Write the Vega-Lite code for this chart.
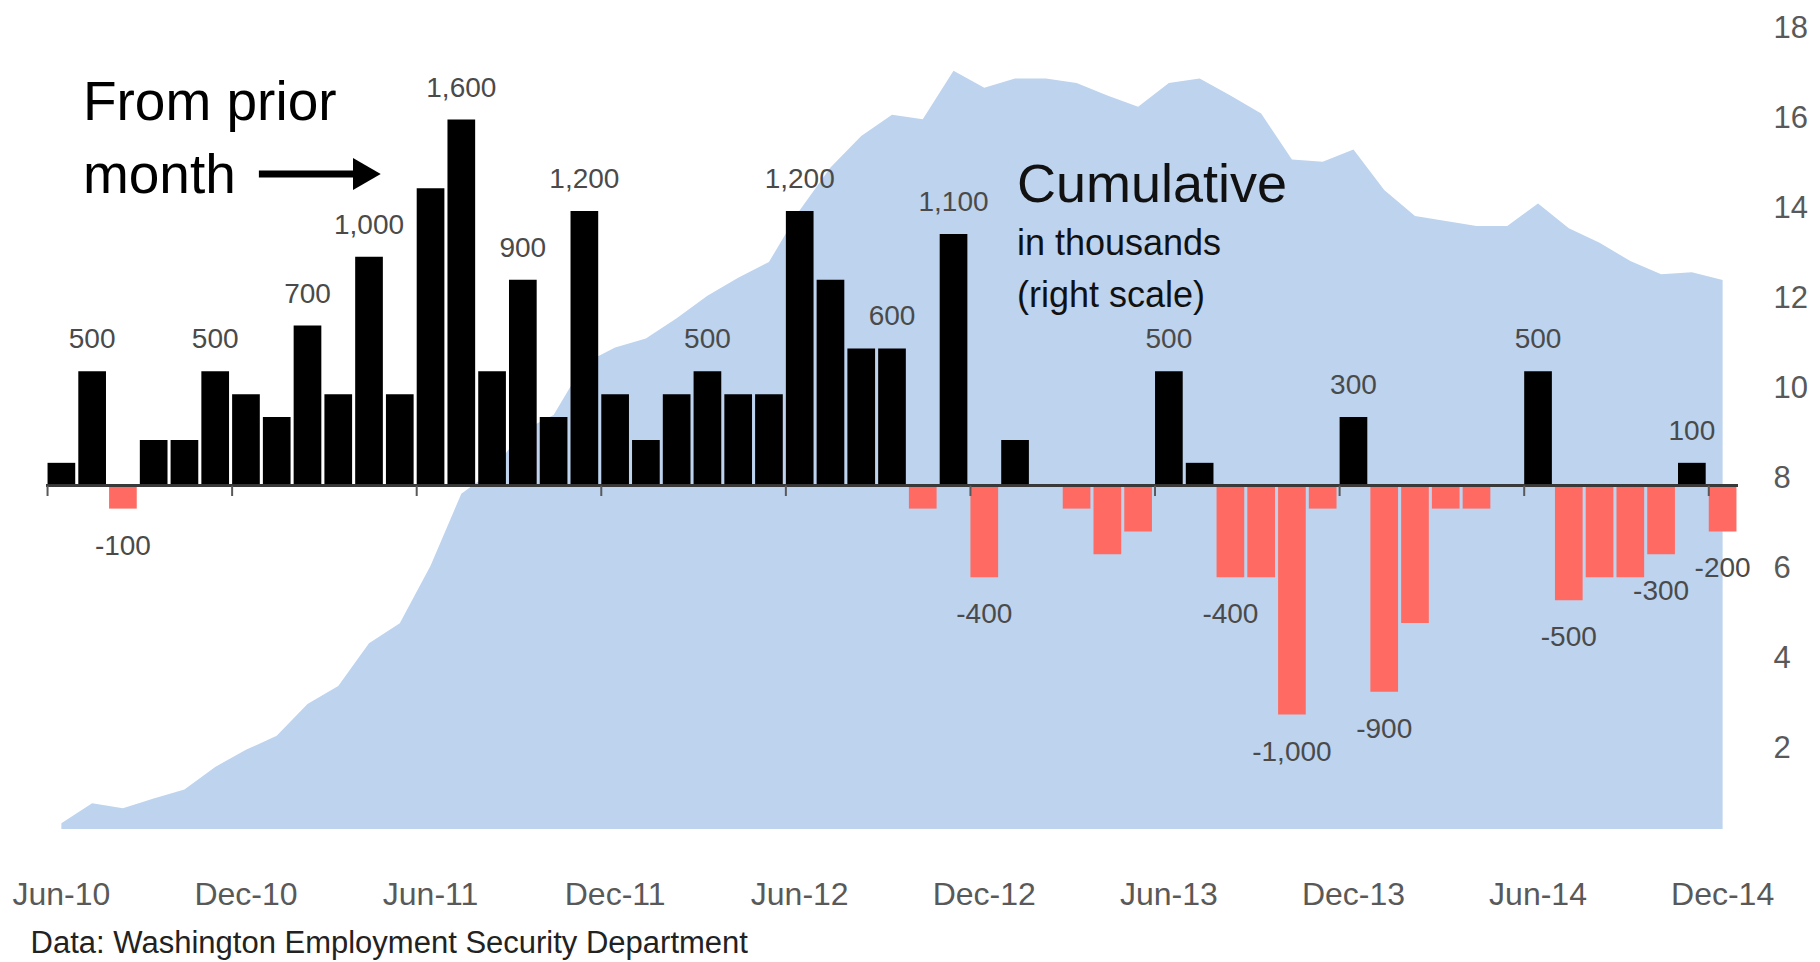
{
  "$schema": "https://vega.github.io/schema/vega-lite/v6.json",
  "width": 1692,
  "height": 801,
  "autosize": "none",
  "padding": {"left": 46, "top": 28, "right": 82, "bottom": 133},
  "background": "white",
  "config": {
    "view": {"stroke": null},
    "font": "Liberation Sans, Arial, sans-serif",
    "text": {"font": "Liberation Sans, Arial, sans-serif"},
    "axis": {"labelFont": "Liberation Sans, Arial, sans-serif"}
  },
  "datasets": {
    "d": [
      {"m": "Jun-10", "v": 100, "cum": 0.33, "label": ""},
      {"m": "Jul-10", "v": 500, "cum": 0.77, "label": "500"},
      {"m": "Aug-10", "v": -100, "cum": 0.66, "label": "-100"},
      {"m": "Sep-10", "v": 200, "cum": 0.88, "label": ""},
      {"m": "Oct-10", "v": 200, "cum": 1.08, "label": ""},
      {"m": "Nov-10", "v": 500, "cum": 1.58, "label": "500"},
      {"m": "Dec-10", "v": 400, "cum": 1.96, "label": ""},
      {"m": "Jan-11", "v": 300, "cum": 2.27, "label": ""},
      {"m": "Feb-11", "v": 700, "cum": 2.98, "label": "700"},
      {"m": "Mar-11", "v": 400, "cum": 3.38, "label": ""},
      {"m": "Apr-11", "v": 1000, "cum": 4.33, "label": "1,000"},
      {"m": "May-11", "v": 400, "cum": 4.77, "label": ""},
      {"m": "Jun-11", "v": 1300, "cum": 6.05, "label": ""},
      {"m": "Jul-11", "v": 1600, "cum": 7.65, "label": "1,600"},
      {"m": "Aug-11", "v": 500, "cum": 8.15, "label": ""},
      {"m": "Sep-11", "v": 900, "cum": 9.05, "label": "900"},
      {"m": "Oct-11", "v": 300, "cum": 9.4, "label": ""},
      {"m": "Nov-11", "v": 1200, "cum": 10.55, "label": "1,200"},
      {"m": "Dec-11", "v": 400, "cum": 10.9, "label": ""},
      {"m": "Jan-12", "v": 200, "cum": 11.1, "label": ""},
      {"m": "Feb-12", "v": 400, "cum": 11.55, "label": ""},
      {"m": "Mar-12", "v": 500, "cum": 12.05, "label": "500"},
      {"m": "Apr-12", "v": 400, "cum": 12.45, "label": ""},
      {"m": "May-12", "v": 400, "cum": 12.8, "label": ""},
      {"m": "Jun-12", "v": 1200, "cum": 13.95, "label": "1,200"},
      {"m": "Jul-12", "v": 900, "cum": 14.9, "label": ""},
      {"m": "Aug-12", "v": 600, "cum": 15.6, "label": ""},
      {"m": "Sep-12", "v": 600, "cum": 16.07, "label": "600"},
      {"m": "Oct-12", "v": -100, "cum": 15.97, "label": ""},
      {"m": "Nov-12", "v": 1100, "cum": 17.05, "label": "1,100"},
      {"m": "Dec-12", "v": -400, "cum": 16.67, "label": "-400"},
      {"m": "Jan-13", "v": 200, "cum": 16.88, "label": ""},
      {"m": "Feb-13", "v": 0, "cum": 16.88, "label": ""},
      {"m": "Mar-13", "v": -100, "cum": 16.78, "label": ""},
      {"m": "Apr-13", "v": -300, "cum": 16.5, "label": ""},
      {"m": "May-13", "v": -200, "cum": 16.25, "label": ""},
      {"m": "Jun-13", "v": 500, "cum": 16.78, "label": "500"},
      {"m": "Jul-13", "v": 100, "cum": 16.88, "label": ""},
      {"m": "Aug-13", "v": -400, "cum": 16.5, "label": "-400"},
      {"m": "Sep-13", "v": -400, "cum": 16.1, "label": ""},
      {"m": "Oct-13", "v": -1000, "cum": 15.08, "label": "-1,000"},
      {"m": "Nov-13", "v": -100, "cum": 15.03, "label": ""},
      {"m": "Dec-13", "v": 300, "cum": 15.3, "label": "300"},
      {"m": "Jan-14", "v": -900, "cum": 14.4, "label": "-900"},
      {"m": "Feb-14", "v": -600, "cum": 13.82, "label": ""},
      {"m": "Mar-14", "v": -100, "cum": 13.71, "label": ""},
      {"m": "Apr-14", "v": -100, "cum": 13.6, "label": ""},
      {"m": "May-14", "v": 0, "cum": 13.6, "label": ""},
      {"m": "Jun-14", "v": 500, "cum": 14.1, "label": "500"},
      {"m": "Jul-14", "v": -500, "cum": 13.55, "label": "-500"},
      {"m": "Aug-14", "v": -400, "cum": 13.23, "label": ""},
      {"m": "Sep-14", "v": -400, "cum": 12.82, "label": ""},
      {"m": "Oct-14", "v": -300, "cum": 12.53, "label": "-300"},
      {"m": "Nov-14", "v": 100, "cum": 12.57, "label": "100"},
      {"m": "Dec-14", "v": -200, "cum": 12.4, "label": "-200"}
    ]
  },
  "resolve": {"scale": {"x": "independent", "y": "independent"}},
  "layer": [
    {
      "data": {"name": "d"},
      "resolve": {"scale": {"y": "independent"}},
      "layer": [
        {
          "mark": {"type": "area", "color": "#BDD3EE", "opacity": 1},
          "encoding": {
            "x": {
              "field": "m", "type": "ordinal", "sort": null,
              "scale": {"type": "band", "paddingInner": 0.1, "paddingOuter": 0.05},
              "axis": null
            },
            "y": {
              "field": "cum", "type": "quantitative",
              "scale": {"domain": [0.2, 18], "nice": false, "zero": false},
              "axis": {
                "orient": "right", "title": null, "domain": false, "ticks": false, "grid": false,
                "values": [2, 4, 6, 8, 10, 12, 14, 16, 18],
                "labelFontSize": 31, "labelColor": "#595959", "labelPadding": 35, "labelAlign": "left"
              }
            },
            "y2": {"datum": 0.2}
          }
        },
        {
          "layer": [
            {
              "mark": {"type": "bar"},
              "encoding": {
                "x": {"field": "m", "type": "ordinal", "sort": null, "axis": null},
                "y": {"field": "v", "type": "quantitative", "scale": {"domain": [-1500, 2000], "nice": false}, "axis": null},
                "color": {"condition": {"test": "datum.v < 0", "value": "#FF6B63"}, "value": "#000000"}
              }
            },
            {
              "mark": {"type": "rule", "color": "#3a3a3a", "strokeWidth": 2},
              "encoding": {
                "y": {"datum": 0, "type": "quantitative", "scale": {"domain": [-1500, 2000], "nice": false}, "axis": null}
              }
            },
            {
              "transform": [{"filter": "test(/^(Jun|Dec)/, datum.m)"}],
              "mark": {"type": "rule", "color": "#595959", "strokeWidth": 2},
              "encoding": {
                "x": {"field": "m", "type": "ordinal", "sort": null, "bandPosition": 0, "axis": null},
                "y": {"datum": 0, "type": "quantitative", "axis": null},
                "y2": {"datum": -45}
              }
            },
            {
              "transform": [{"filter": "test(/^(Jun|Dec)/, datum.m)"}],
              "mark": {"type": "text", "fontSize": 32, "color": "#595959", "baseline": "middle", "align": "center"},
              "encoding": {
                "x": {"field": "m", "type": "ordinal", "sort": null, "axis": null},
                "y": {"datum": -1788, "type": "quantitative", "axis": null},
                "text": {"field": "m"}
              }
            },
            {
              "transform": [{"filter": "datum.label != '' && datum.v > 0"}],
              "mark": {"type": "text", "fontSize": 28, "color": "#4a4a4a", "baseline": "middle", "align": "center", "dy": -31},
              "encoding": {
                "x": {"field": "m", "type": "ordinal", "sort": null, "axis": null},
                "y": {"field": "v", "type": "quantitative", "axis": null},
                "text": {"field": "label"}
              }
            },
            {
              "transform": [{"filter": "datum.label != '' && datum.v < 0"}],
              "mark": {"type": "text", "fontSize": 28, "color": "#4a4a4a", "baseline": "middle", "align": "center", "dy": 38},
              "encoding": {
                "x": {"field": "m", "type": "ordinal", "sort": null, "axis": null},
                "y": {"field": "v", "type": "quantitative", "axis": null},
                "text": {"field": "label"}
              }
            }
          ]
        }
      ]
    },
    {
      "data": {"values": [{}]},
      "layer": [
        {
          "mark": {"type": "text", "text": ["From prior", "month"], "fontSize": 55, "lineHeight": 73, "align": "left", "baseline": "alphabetic", "color": "#000000"},
          "encoding": {
            "x": {"datum": 1.2, "type": "quantitative", "scale": {"domain": [0, 55], "nice": false, "zero": false}, "axis": null},
            "y": {"datum": 1598, "type": "quantitative", "scale": {"domain": [-1500, 2000], "nice": false, "zero": false}, "axis": null}
          }
        },
        {
          "mark": {"type": "rule", "color": "#000000", "strokeWidth": 7},
          "encoding": {
            "x": {"datum": 6.92, "type": "quantitative", "axis": null},
            "x2": {"datum": 10.25},
            "y": {"datum": 1362, "type": "quantitative", "axis": null}
          }
        },
        {
          "mark": {"type": "point", "shape": "triangle-right", "filled": true, "color": "#000000", "size": 1024, "opacity": 1},
          "encoding": {
            "x": {"datum": 10.43, "type": "quantitative", "axis": null},
            "y": {"datum": 1362, "type": "quantitative", "axis": null}
          }
        },
        {
          "mark": {"type": "text", "text": "Cumulative", "fontSize": 54, "align": "left", "baseline": "alphabetic", "color": "#111111"},
          "encoding": {
            "x": {"datum": 31.56, "type": "quantitative", "axis": null},
            "y": {"datum": 1241, "type": "quantitative", "axis": null}
          }
        },
        {
          "mark": {"type": "text", "text": ["in thousands", "(right scale)"], "fontSize": 36, "lineHeight": 52, "align": "left", "baseline": "alphabetic", "color": "#111111"},
          "encoding": {
            "x": {"datum": 31.56, "type": "quantitative", "axis": null},
            "y": {"datum": 1008, "type": "quantitative", "axis": null}
          }
        },
        {
          "mark": {"type": "text", "text": "Data: Washington Employment Security Department", "fontSize": 31, "align": "left", "baseline": "alphabetic", "color": "#222222"},
          "encoding": {
            "x": {"datum": -0.5, "type": "quantitative", "axis": null},
            "y": {"datum": -2042, "type": "quantitative", "axis": null}
          }
        }
      ]
    }
  ]
}
